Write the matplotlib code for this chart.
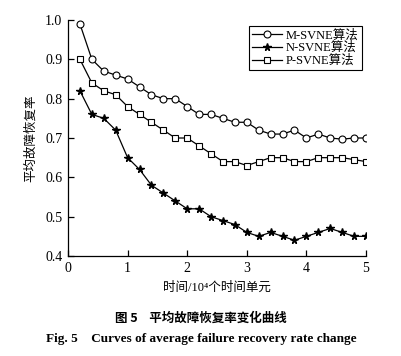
import numpy as np
import matplotlib
matplotlib.use("Agg")
import matplotlib.pyplot as plt

plt.rcParams['font.family'] = ['Liberation Serif', 'Noto Sans CJK SC']

# time in 10^4 time units
time = [0.2, 0.4, 0.6, 0.8, 1.0, 1.2, 1.4, 1.6, 1.8, 2.0, 2.2, 2.4, 2.6,
        2.8, 3.0, 3.2, 3.4, 3.6, 3.8, 4.0, 4.2, 4.4, 4.6, 4.8, 5.0]
m_svne = [0.99, 0.90, 0.87, 0.86, 0.85, 0.83, 0.81, 0.80, 0.80, 0.78, 0.76, 0.76, 0.75,
          0.74, 0.74, 0.72, 0.71, 0.71, 0.72, 0.70, 0.71, 0.70, 0.697, 0.70, 0.70]
n_svne = [0.82, 0.76, 0.75, 0.72, 0.65, 0.62, 0.58, 0.56, 0.54, 0.52, 0.52, 0.50, 0.49,
          0.48, 0.46, 0.45, 0.46, 0.45, 0.44, 0.45, 0.46, 0.47, 0.46, 0.45, 0.45]
p_svne = [0.90, 0.84, 0.82, 0.81, 0.78, 0.76, 0.74, 0.72, 0.70, 0.70, 0.68, 0.66, 0.64,
          0.64, 0.63, 0.64, 0.65, 0.65, 0.64, 0.64, 0.65, 0.65, 0.65, 0.645, 0.64]
labels = ['M-SVNE算法', 'N-SVNE算法', 'P-SVNE算法']

fig = plt.figure(figsize=(4.02, 3.56), dpi=100)
ax = fig.add_axes([68 / 402, 1 - 256 / 356, 298 / 402, 236 / 356])

ax.plot(time, m_svne, color='black', lw=0.9, marker='o', ms=5,
        mfc='white', mec='black', mew=0.8, label=labels[0])
ax.plot(time, n_svne, color='black', lw=0.9, marker='*', ms=5.5,
        mfc='black', mec='black', label=labels[1])
ax.plot(time, p_svne, color='black', lw=0.9, marker='s', ms=5,
        mfc='white', mec='black', mew=0.8, label=labels[2])

ax.set_xlim(0, 5)
ax.set_ylim(0.4, 1.0)
ax.set_xticks([0, 1, 2, 3, 4, 5])
ax.set_yticks([0.4, 0.5, 0.6, 0.7, 0.8, 0.9, 1.0])
ax.set_yticklabels(['0.4', '0.5', '0.6', '0.7', '0.8', '0.9', '1.0'])
ax.spines['top'].set_visible(False)
ax.spines['right'].set_visible(False)
for s in ['left', 'bottom']:
    ax.spines[s].set_linewidth(0.9)
ax.tick_params(direction='in', length=4, width=0.9, labelsize=10, pad=4)

ax.set_xlabel('时间/10⁴个时间单元', fontsize=9, labelpad=5)
ax.set_ylabel('平均故障恢复率', fontsize=9, labelpad=6)

leg = ax.legend(loc='upper right', bbox_to_anchor=(0.995, 0.985), fontsize=9,
                frameon=True, fancybox=False, edgecolor='black', framealpha=1,
                handlelength=2.4, handletextpad=0.3, borderpad=0.25,
                labelspacing=0.05, borderaxespad=0.2)
leg.get_frame().set_linewidth(0.8)

fig.text(0.5, 1 - 318 / 356, '图 5    平均故障恢复率变化曲线', ha='center', va='center',
         fontsize=9, fontweight='bold', family=['Noto Sans CJK SC'])
fig.text(0.5, 1 - 339 / 356, 'Fig. 5    Curves of average failure recovery rate change',
         ha='center', va='center', fontsize=9.5, fontweight='bold')

fig.savefig('out.png', dpi=100)
